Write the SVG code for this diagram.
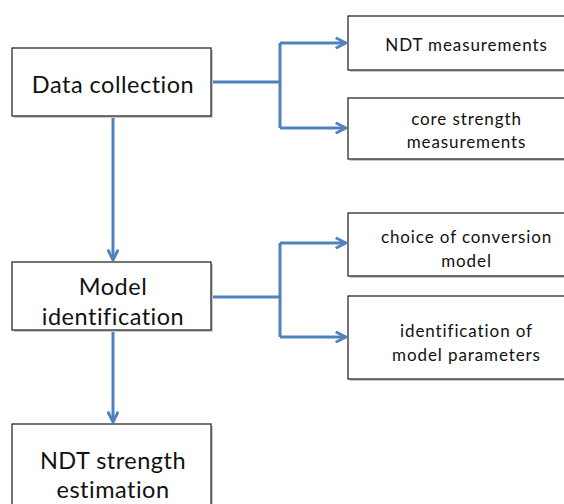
<svg xmlns="http://www.w3.org/2000/svg" width="564" height="504" viewBox="0 0 564 504">
<defs>
<style>
.box{fill:#fff;stroke:#2b2b2b;stroke-width:1.3}
.sh{fill:#c8c8c8}
.big{font-family:Lato,"Open Sans","Liberation Sans",sans-serif;font-size:23.5px;letter-spacing:0.5px;fill:#111;text-anchor:middle}
.sm{font-family:Lato,"Open Sans","Liberation Sans",sans-serif;font-size:17px;letter-spacing:0.9px;fill:#111;text-anchor:middle}
.ln{fill:none;stroke:#4f81bd;stroke-width:3}
</style>
<marker id="ar" viewBox="0 0 10 10" refX="9" refY="5" markerWidth="4.3" markerHeight="4.3" orient="auto" markerUnits="strokeWidth">
<polyline points="1,1 9,5 1,9" fill="none" stroke="#4f81bd" stroke-width="2.2" stroke-linejoin="miter"/>
</marker>
</defs>
<rect width="564" height="504" fill="#fff"/>
<g id="connectors">
<path class="ln" d="M211,82 H280"/>
<path class="ln" d="M280,43 V128"/>
<path class="ln" d="M280,43 H346" marker-end="url(#ar)"/>
<path class="ln" d="M280,128 H346" marker-end="url(#ar)"/>
<path class="ln" d="M113,116 V260" marker-end="url(#ar)"/>
<path class="ln" d="M211,297 H280"/>
<path class="ln" d="M280,243 V337"/>
<path class="ln" d="M280,243 H346" marker-end="url(#ar)"/>
<path class="ln" d="M280,337 H346" marker-end="url(#ar)"/>
<path class="ln" d="M113,330 V422" marker-end="url(#ar)"/>
</g>
<g id="data-collection">
<rect class="sh" x="14" y="50" width="199" height="68"/>
<rect class="box" x="12" y="48" width="199" height="68"/>
<text class="big" x="113" y="93">Data collection</text>
</g>
<g id="ndt-measurements">
<rect class="sh" x="350" y="18" width="220" height="54"/>
<rect class="box" x="348" y="16" width="220" height="54"/>
<text class="sm" x="466.5" y="51">NDT measurements</text>
</g>
<g id="core-strength">
<rect class="sh" x="350" y="100" width="220" height="61"/>
<rect class="box" x="348" y="98" width="220" height="61"/>
<text class="sm" x="466.5" y="125">core strength</text>
<text class="sm" x="466.5" y="148">measurements</text>
</g>
<g id="model-identification">
<rect class="sh" x="14" y="264" width="199" height="68"/>
<rect class="box" x="12" y="262" width="199" height="68"/>
<text class="big" x="113" y="295">Model</text>
<text class="big" x="113" y="325">identification</text>
</g>
<g id="choice-model">
<rect class="sh" x="350" y="215" width="220" height="63"/>
<rect class="box" x="348" y="213" width="220" height="63"/>
<text class="sm" x="466.5" y="243">choice of conversion</text>
<text class="sm" x="466.5" y="267">model</text>
</g>
<g id="identification-params">
<rect class="sh" x="350" y="298" width="220" height="83"/>
<rect class="box" x="348" y="296" width="220" height="83"/>
<text class="sm" x="466.5" y="337">identification of</text>
<text class="sm" x="466.5" y="361">model parameters</text>
</g>
<g id="ndt-strength-estimation">
<rect class="sh" x="14" y="426" width="199" height="90"/>
<rect class="box" x="12" y="424" width="199" height="90"/>
<text class="big" x="113" y="469">NDT strength</text>
<text class="big" x="113" y="498">estimation</text>
</g>
</svg>
